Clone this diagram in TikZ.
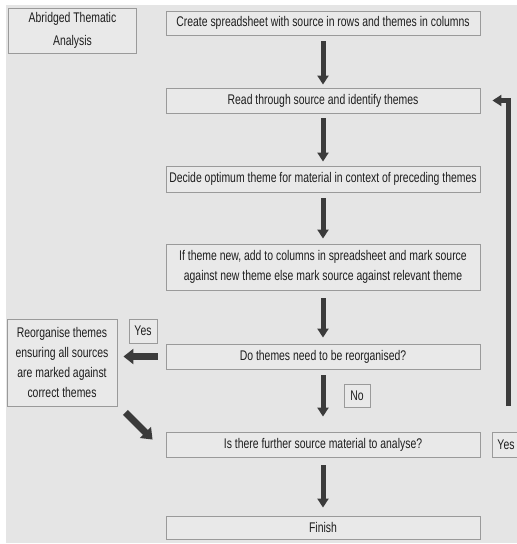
\documentclass[tikz,border=0pt]{standalone}
\usepackage{fontspec}
\setmainfont{Liberation Sans}[FakeStretch=0.745]
\usetikzlibrary{arrows.meta,calc}

\definecolor{bg}{HTML}{E5E5E5}
\definecolor{boxfill}{HTML}{E9E9E9}
\definecolor{boxline}{HTML}{9A9A9A}
\definecolor{arrowcol}{HTML}{3B3B3B}
\definecolor{txt}{HTML}{1E1E1E}

\begin{document}
\begin{tikzpicture}[x=1pt,y=-1pt,
  box/.style={draw=boxline, line width=0.9pt, fill=boxfill, inner sep=0pt,
    align=center, text=txt, font=\fontsize{14}{20}\selectfont},
  stepbox/.style={box, minimum width=314pt, minimum height=24pt},
  flow/.style={draw=arrowcol, line width=5pt, line join=miter,
    -{Triangle[width=11pt,length=9pt]}},
  bigflow/.style={draw=arrowcol, line width=7pt,
    -{Triangle[width=15pt,length=10pt]}},
  ]
\useasboundingbox (0,0) rectangle (517,544);
\clip (0,0) rectangle (517,544);
\fill[bg] (6,5) rectangle (517,543);

% title
\node[box, minimum width=128pt, minimum height=45pt,
  font=\fontsize{14}{23}\selectfont] (title) at (72.5,30.5)
  {Abridged Thematic\\Analysis};

% main column of steps
\node[stepbox] (create) at (323,23)
  {Create spreadsheet with source in rows and themes in columns};
\node[stepbox, minimum height=25pt] (read) at (323,100.5)
  {Read through source and identify themes};
\node[stepbox, minimum height=26pt] (decide) at (323,179)
  {Decide optimum theme for material in context of preceding themes};
\node[stepbox, minimum height=46pt] (mark) at (323,267)
  {If theme new, add to columns in spreadsheet and mark source\\against new theme else mark source against relevant theme};
\node[stepbox, minimum height=25pt] (reorgq) at (323,356.5)
  {Do themes need to be reorganised?};
\node[stepbox, minimum height=25pt] (further) at (323,444.5)
  {Is there further source material to analyse?};
\node[stepbox, minimum height=23pt] (finish) at (323,527.5)
  {Finish};

% side box and answer labels
\node[box, minimum width=110pt, minimum height=87pt] (reorg) at (62,362.5)
  {Reorganise themes\\ensuring all sources\\are marked against\\correct themes};
\node[box, minimum width=28pt, minimum height=24pt] (yesA) at (143,331) {Yes};
\node[box, minimum width=26pt, minimum height=23pt] (no) at (357,395.5) {No};
\node[box, minimum width=28pt, minimum height=25pt] (yesB) at (506,444.5) {Yes};

% connectors down the main column
\draw[flow, shorten <=6pt, shorten >=3pt] (create) -- (read);
\draw[flow, shorten <=5pt, shorten >=4pt] (read) -- (decide);
\draw[flow, shorten <=6pt, shorten >=5pt] (decide) -- (mark);
\draw[flow, shorten <=8pt, shorten >=6pt] (mark) -- (reorgq);
\draw[flow, shorten <=6pt, shorten >=15pt] (reorgq) -- (further);
\draw[flow, shorten <=8pt, shorten >=8pt] (further) -- (finish);

% reorganise branch
\draw[bigflow, shorten <=8pt, shorten >=6pt] (reorgq.west) -- (reorgq.west -| reorg.east);
\draw[bigflow] ($(reorg.south east)+(8,6)$) -- ($(further.north west)+(-13,8)$);

% loop back for further material
\coordinate (loopfoot) at (508.5,406);
\draw[flow, line width=4.5pt, shorten >=12pt] (loopfoot) |- (read.east);
\end{tikzpicture}
\end{document}
